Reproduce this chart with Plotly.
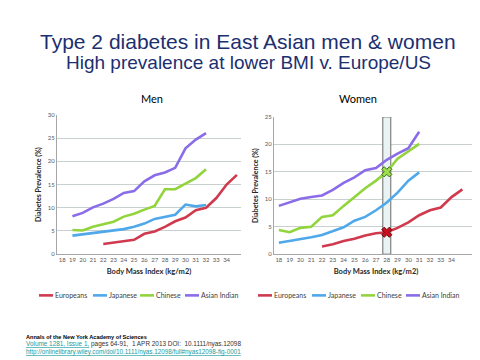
import plotly.graph_objects as go

# ---------------- data ----------------
bmi = list(range(18, 36))
tick_labels = [str(v) for v in range(18, 35)]
series_names = ["Europeans", "Japanese", "Chinese", "Asian Indian"]
series_colors = ["#d03a4e", "#4ea8ea", "#92d43c", "#8a6ce8"]

men_europeans = [None, None, None, None, 2.2, 2.5, 2.8, 3.1, 4.4, 4.9, 5.9, 7.1, 7.9, 9.5, 10.0, 12.1, 15.0, 17.1]
men_japanese = [None, 4.0, 4.3, 4.6, 4.9, 5.2, 5.4, 5.9, 6.6, 7.6, 8.1, 8.5, 10.7, 10.3, 10.6, None, None, None]
men_chinese = [None, 5.2, 5.1, 5.9, 6.4, 7.0, 8.1, 8.7, 9.6, 10.4, 14.0, 14.0, 15.2, 16.4, 18.3, None, None, None]
men_asian_indian = [None, 8.2, 8.9, 10.1, 10.9, 11.9, 13.2, 13.6, 15.7, 17.0, 17.6, 18.6, 22.8, 24.7, 26.1, None, None, None]

women_europeans = [None, None, None, None, 1.4, 1.8, 2.4, 2.8, 3.4, 3.8, 4.0, 4.8, 5.8, 7.1, 8.0, 8.5, 10.4, 11.8]
women_japanese = [2.1, 2.4, 2.8, 3.1, 3.5, 4.2, 4.9, 6.1, 6.8, 8.0, 9.4, 11.2, 13.4, 14.9, None, None, None, None]
women_chinese = [4.4, 4.0, 4.8, 5.0, 6.8, 7.1, 8.8, 10.4, 12.0, 13.4, 15.0, 17.4, 18.7, 20.1, None, None, None, None]
women_asian_indian = [8.8, 9.4, 10.1, 10.4, 10.7, 11.7, 13.0, 14.0, 15.3, 15.7, 17.2, 18.3, 19.3, 22.3, None, None, None, None]

highlight_bmi = 28

# ---------------- figure ----------------
W, H = 480, 360
def px(x):
    return x / W
def py(y):
    return 1 - y / H

CHART_FONT = "Lato, Open Sans, sans-serif"
TITLE_FONT = "Liberation Sans, Arial, sans-serif"

fig = go.Figure()

men = [men_europeans, men_japanese, men_chinese, men_asian_indian]
women = [women_europeans, women_japanese, women_chinese, women_asian_indian]

for name, color, ys in zip(series_names, series_colors, men):
    fig.add_trace(go.Scatter(x=bmi, y=ys, mode="lines", name=name, showlegend=False,
                             line=dict(color=color, width=2.6), xaxis="x", yaxis="y"))
for name, color, ys in zip(series_names, series_colors, women):
    fig.add_trace(go.Scatter(x=bmi, y=ys, mode="lines", name=name, showlegend=False,
                             line=dict(color=color, width=2.6), xaxis="x2", yaxis="y2"))

hi = bmi.index(highlight_bmi)
fig.add_trace(go.Scatter(x=[highlight_bmi], y=[women_chinese[hi]], mode="markers", showlegend=False,
                         marker=dict(symbol="x", size=9, color="#9be04a",
                                     line=dict(color="#3e6a1c", width=1)),
                         xaxis="x2", yaxis="y2"))
fig.add_trace(go.Scatter(x=[highlight_bmi], y=[women_europeans[hi]], mode="markers", showlegend=False,
                         marker=dict(symbol="x", size=9, color="#c8101e",
                                     line=dict(color="#6a0a10", width=1)),
                         xaxis="x2", yaxis="y2"))

axis_common = dict(showgrid=False, zeroline=False, showline=True, linecolor="#a6a6a6", linewidth=1,
                   ticks="", tickfont=dict(family=CHART_FONT, size=6, color="#595959"),
                   fixedrange=True)
xcommon = dict(axis_common, tickmode="array", tickvals=list(range(18, 35)), ticktext=tick_labels,
               title=dict(text="<b>Body Mass Index (kg/m2)</b>",
                          font=dict(family=CHART_FONT, size=7.5, color="#262626"), standoff=6))
ycommon = dict(axis_common, showgrid=True, gridcolor="#c9d0d0", gridwidth=1, dtick=5,
               title=dict(text="<b>Diabetes Prevalence (%)</b>",
                          font=dict(family=CHART_FONT, size=7, color="#262626"), standoff=5))

fig.update_layout(
    width=W, height=H, margin=dict(l=0, r=0, t=0, b=0),
    paper_bgcolor="white", plot_bgcolor="white", showlegend=False,
    xaxis=dict(xcommon, domain=[px(49), px(233)], range=[17.5, 35.4], anchor="y"),
    yaxis=dict(ycommon, domain=[py(247), py(105)], range=[0, 30], anchor="x"),
    xaxis2=dict(xcommon, domain=[px(266), px(470)], range=[17.55, 36.45], anchor="y2"),
    yaxis2=dict(ycommon, domain=[py(247), py(107)], range=[0, 25], anchor="x2"),
)

# highlight column at BMI 28 (women)
fig.add_shape(type="rect", xref="x2", yref="y2", x0=highlight_bmi - 0.37, x1=highlight_bmi + 0.37,
              y0=0, y1=25, fillcolor="#eaf3f3", line=dict(color="#6a6a6a", width=1), layer="between")

annotations = []
annotations.append(dict(text="Type 2 diabetes in East Asian men &amp; women", x=0.5, y=py(30),
                        font=dict(family=TITLE_FONT, size=21, color="#1c2f70")))
annotations.append(dict(text="High prevalence at lower BMI v. Europe/US", x=0.5, y=py(52),
                        font=dict(family=TITLE_FONT, size=19, color="#1c2f70")))
annotations.append(dict(text="Men", x=px(144), y=py(88),
                        font=dict(family=CHART_FONT, size=11, color="#000000")))
annotations.append(dict(text="Women", x=px(350), y=py(88),
                        font=dict(family=CHART_FONT, size=11, color="#000000")))

# compact legends (one per panel): line-key start positions in px
legend_rows = [
    [31, 85, 132, 177],
    [250, 304, 353, 398],
]
for starts in legend_rows:
    for name, color, x0 in zip(series_names, series_colors, starts):
        fig.add_shape(type="line", xref="paper", yref="paper", x0=px(x0), x1=px(x0 + 14),
                      y0=py(289), y1=py(289), line=dict(color=color, width=2.6))
        annotations.append(dict(text=name, x=px(x0 + 14), y=py(289), xanchor="left",
                                font=dict(family=CHART_FONT, size=7, color="#404040")))

link = "#1a9a9c"
annotations.append(dict(text="<b>Annals of the New York Academy of Sciences</b>", x=px(16), y=py(331),
                        xanchor="left", font=dict(family=TITLE_FONT, size=5.6, color="#000000")))
annotations.append(dict(text=f"<span style='color:{link}'><u>Volume 1281, Issue 1,</u></span> pages 64-91,  1 APR 2013 DOI:  10.1111/nyas.12098",
                        x=px(16), y=py(339), xanchor="left",
                        font=dict(family=TITLE_FONT, size=6.4, color="#333333")))
annotations.append(dict(text=f"<span style='color:{link}'><u>http://onlinelibrary.wiley.com/doi/10.1111/nyas.12098/full#nyas12098-fig-0001</u></span>",
                        x=px(16), y=py(347), xanchor="left",
                        font=dict(family=TITLE_FONT, size=6.3, color=link)))

for a in annotations:
    a.setdefault("xanchor", "center")
    a.update(xref="paper", yref="paper", yanchor="middle", showarrow=False)
fig.update_layout(annotations=annotations)

fig.write_html("out.html")
